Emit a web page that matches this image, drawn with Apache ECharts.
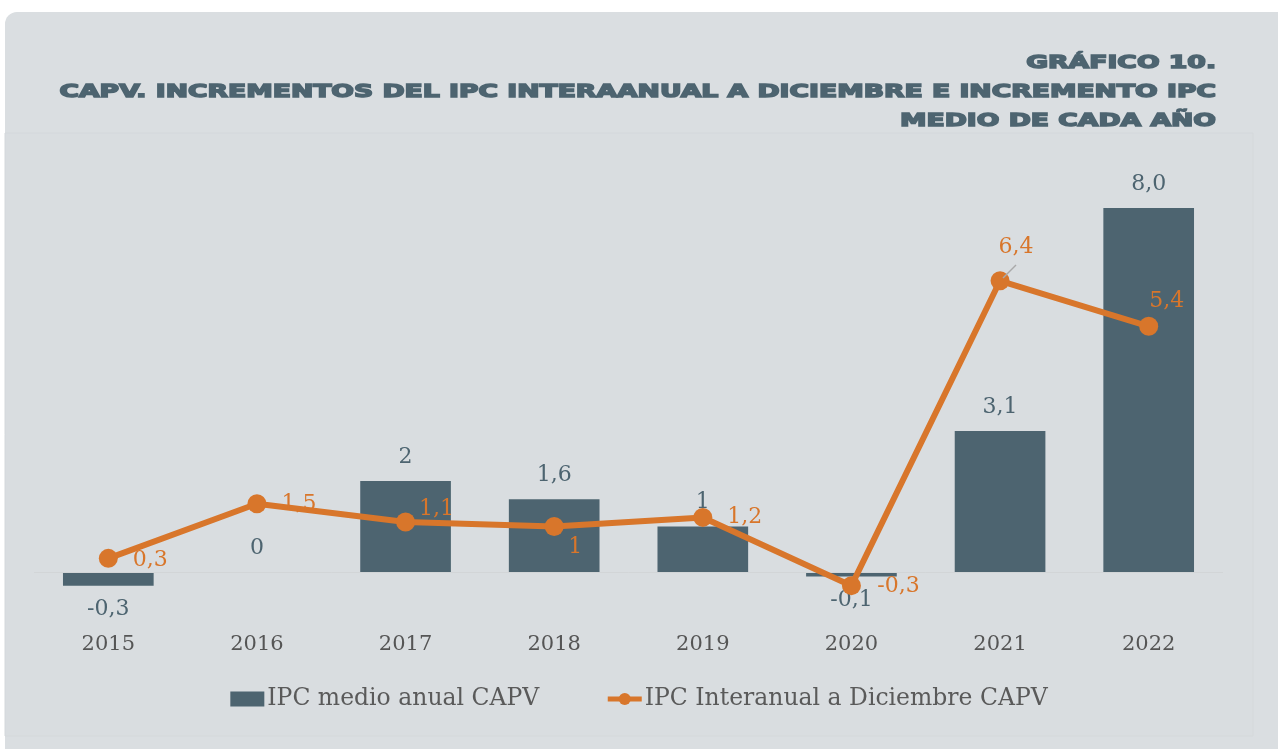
<!DOCTYPE html>
<html>
<head>
<meta charset="utf-8">
<script src="https://cdn.jsdelivr.net/npm/echarts@6/dist/echarts.min.js"></script>
<style>
html, body { margin: 0; padding: 0; background: #ffffff; }
#chart { width: 1278px; height: 749px; }
</style>
</head>
<body>
<div id="chart"></div>
<script>
var years = ['2015', '2016', '2017', '2018', '2019', '2020', '2021', '2022'];
var ipcMedio = [-0.3, 0, 2, 1.6, 1, -0.1, 3.1, 8.0];
var ipcMedioText = ['-0,3', '0', '2', '1,6', '1', '-0,1', '3,1', '8,0'];
var ipcDic = [0.3, 1.5, 1.1, 1, 1.2, -0.3, 6.4, 5.4];
var ipcDicText = ['0,3', '1,5', '1,1', '1', '1,2', '-0,3', '6,4', '5,4'];
var titleLines = ['GRÁFICO 10.', 'CAPV. INCREMENTOS DEL IPC INTERAANUAL A DICIEMBRE E INCREMENTO IPC', 'MEDIO DE CADA AÑO'];

var slate = '#4d6470';
var orange = '#d8762b';
var serif = '"DejaVu Serif", serif';

// label offsets of the orange line
var dicOffsets = [[42, 2], [42, 1], [31, -13], [21, 21], [42, 0], [47, 1], [16, -34], [18, -25]];

var chartDom = document.getElementById('chart');
var myChart = echarts.init(chartDom);

var barData = ipcMedio.map(function (v, i) {
	return {
		value: v,
		label: { position: v < 0 ? 'bottom' : 'top', formatter: ipcMedioText[i] }
	};
});
var lineData = ipcDic.map(function (v, i) {
	return {
		value: v,
		label: { offset: dicOffsets[i], formatter: ipcDicText[i] }
	};
});

var titleGraphics = titleLines.map(function (t, i) {
	return {
		type: 'text',
		x: 1216,
		y: 63 + i * 29,
		scaleX: 1.48,
		style: {
			text: t,
			textAlign: 'right',
			textVerticalAlign: 'middle',
			fontFamily: 'DejaVu Sans',
			fontWeight: 'bold',
			fontSize: 18,
			fill: slate,
			stroke: slate,
			lineWidth: 1.5
		}
	};
});

var option = {
	backgroundColor: '#ffffff',
	animation: false,
	graphic: [
		{ type: 'rect', z: -10, shape: { x: 5, y: 12, width: 1280, height: 760, r: [12, 0, 0, 0] }, style: { fill: '#dadee1' } },
		{ type: 'rect', z: -9, shape: { x: 5, y: 133, width: 1248, height: 603 }, style: { fill: '#d9dde0', stroke: '#d4d8db', lineWidth: 1 } },
		// small leader line of the 6,4 label
		{ type: 'line', z: 10, shape: { x1: 1003, y1: 278, x2: 1016, y2: 265 }, style: { stroke: '#a9a9a9', lineWidth: 1.5 } }
	].concat(titleGraphics),
	grid: { left: 34, right: 55, top: 162.5, height: 455 },
	legend: {
		top: 682,
		left: 'center',
		itemGap: 66,
		itemWidth: 34,
		itemHeight: 15,
		textStyle: { fontFamily: serif, fontSize: 23.5, color: '#5a5a5a', padding: [0, 0, 0, -2] },
		data: [
			{ name: 'IPC medio anual CAPV', icon: 'rect' },
			{ name: 'IPC Interanual a Diciembre CAPV', lineStyle: { width: 5 } }
		]
	},
	xAxis: {
		type: 'category',
		data: years,
		axisLine: { show: false, onZero: false },
		axisTick: { show: false },
		axisLabel: { fontFamily: serif, fontSize: 21, color: '#555555', margin: 17 }
	},
	yAxis: {
		type: 'value',
		min: -1,
		max: 9,
		show: false,
		splitLine: { show: false }
	},
	series: [
		{
			name: 'IPC medio anual CAPV',
			type: 'bar',
			data: barData,
			barWidth: '61%',
			itemStyle: { color: slate },
			label: { show: true, distance: 13, fontFamily: serif, fontSize: 22, color: slate },
			markLine: {
				silent: true,
				symbol: 'none',
				label: { show: false },
				lineStyle: { color: '#d2d5d7', width: 1, type: 'solid' },
				data: [{ yAxis: 0 }]
			}
		},
		{
			name: 'IPC Interanual a Diciembre CAPV',
			type: 'line',
			data: lineData,
			symbol: 'circle',
			symbolSize: 19,
			lineStyle: { color: orange, width: 6 },
			itemStyle: { color: orange },
			label: { show: true, position: 'inside', fontFamily: serif, fontSize: 22, color: orange },
			z: 5
		}
	]
};

option && myChart.setOption(option);
</script>
</body>
</html>
